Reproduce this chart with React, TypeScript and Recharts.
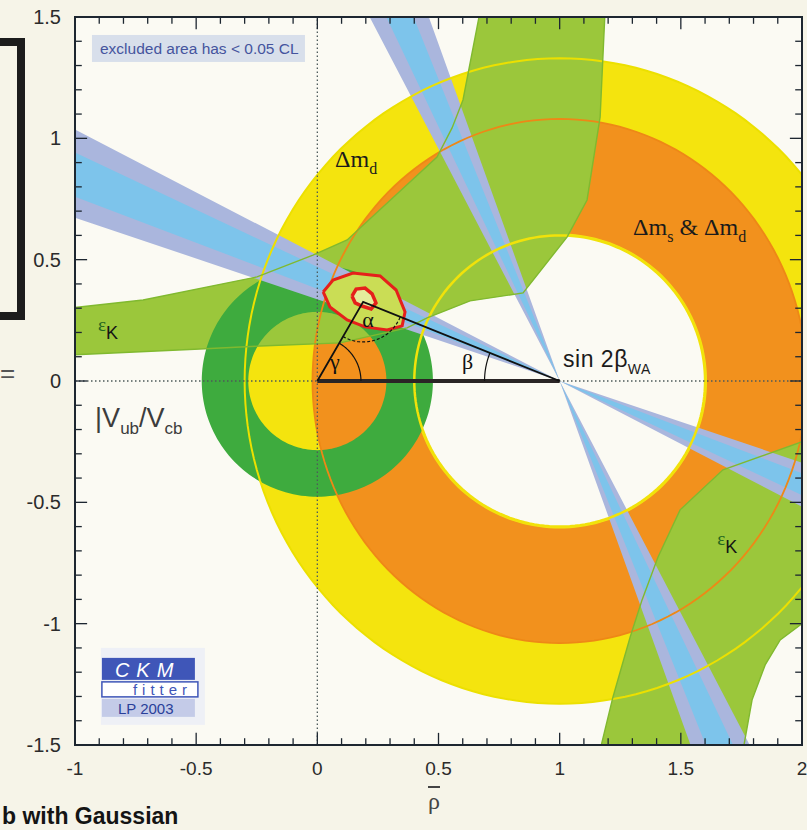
import React from 'react';
import { ComposedChart, XAxis, YAxis, Area, Line, ReferenceLine, ReferenceArea, ReferenceDot } from 'recharts';

type Pt = [number, number];

const SERIF = '"Liberation Serif", "DejaVu Serif", serif';
const SANS = '"Liberation Sans", Arial, sans-serif';
const NARROW = '"Liberation Sans Narrow", "Liberation Sans", Arial, sans-serif';

// Δm_d (yellow) and Δm_s & Δm_d (orange) rings round (1, 0): radii along rho, eta
const DM_CENTRE: Pt = [1.0, 0.0];
const DMD_OUTER: Pt = [1.3, 1.33];
const DMS_OUTER: Pt = [1.02, 1.08];
const DM_HOLE = 0.6;

// |Vub/Vcb| ring round the origin: inner, outer radius
const VUB_RADII: Pt = [0.285, 0.477];

// sin 2β_WA: direction of the two solutions seen from (1, 0) and half widths, degrees
const SIN2B_DIR = [157, 113.7];
const SIN2B_CORE = [2.2, 1.8];
const SIN2B_WIDE = [4.4, 3.9];

// εK hyperbolic bands
const EPSK_UPPER: Pt[] = [
  [-1.02, 0.301], [-0.719, 0.334], [-0.249, 0.429], [-0.018, 0.519], [0.123, 0.581],
  [0.494, 0.923], [0.556, 1.043], [0.601, 1.158], [0.671, 1.52], [1.187, 1.52],
  [1.167, 1.088], [1.113, 0.746], [1.031, 0.594], [0.849, 0.363], [0.63, 0.33],
  [0.453, 0.26], [0.37, 0.219], [0.094, 0.157], [-0.236, 0.144], [-0.484, 0.132], [-1.02, 0.107],
];
const EPSK_LOWER: Pt[] = [
  [2.02, -0.243], [1.674, -0.366], [1.497, -0.531], [1.406, -0.725], [1.34, -0.902],
  [1.291, -1.055], [1.22, -1.302], [1.167, -1.52], [1.757, -1.52], [1.794, -1.314],
  [1.848, -1.17], [1.91, -1.067], [2.02, -0.985],
];

// global fit contours
const FIT_95: Pt[] = [
  [0.024, 0.367], [0.065, 0.416], [0.147, 0.445], [0.259, 0.433], [0.325, 0.375], [0.362, 0.285],
  [0.35, 0.227], [0.288, 0.21], [0.197, 0.223], [0.123, 0.252], [0.052, 0.305],
];
const FIT_68: Pt[] = [
  [0.143, 0.35], [0.16, 0.379], [0.197, 0.383], [0.226, 0.359], [0.242, 0.322],
  [0.222, 0.297], [0.184, 0.309], [0.156, 0.322],
];
const APEX: Pt = [0.189, 0.326];

const X_LABELS = [-1, -0.5, 0, 0.5, 1, 1.5, 2];
const Y_LABELS = [-1.5, -1, -0.5, 0, 0.5, 1, 1.5];
const X_MINOR = [-1, -0.9, -0.8, -0.7, -0.6, -0.5, -0.4, -0.3, -0.2, -0.1, 0, 0.1, 0.2, 0.3, 0.4, 0.5,
  0.6, 0.7, 0.8, 0.9, 1, 1.1, 1.2, 1.3, 1.4, 1.5, 1.6, 1.7, 1.8, 1.9, 2];
const Y_MINOR = [-1.5, -1.4, -1.3, -1.2, -1.1, -1, -0.9, -0.8, -0.7, -0.6, -0.5, -0.4, -0.3, -0.2, -0.1, 0,
  0.1, 0.2, 0.3, 0.4, 0.5, 0.6, 0.7, 0.8, 0.9, 1, 1.1, 1.2, 1.3, 1.4, 1.5];

const C = {
  yellow: '#f4e40e', orange: '#f2911d', lightGreen: '#9bc73b', darkGreen: '#3eab3e',
  blue: '#7dc4eb', lavender: '#aab6dd', red: '#e5201b', fit: '#cadd55', axis: '#1d2630',
};

// geometry helpers (shapes are built from the measured centres / radii / angles)
const rad = (d: number) => (d * Math.PI) / 180;
const deg = (p: Pt, q: Pt) => (Math.atan2(q[1] - p[1], q[0] - p[0]) * 180) / Math.PI;
const arc = (c: Pt, rx: number, ry: number, from: number, to: number, n = 180): Pt[] =>
  Array.from({ length: n + 1 }, (_, i) => {
    const a = rad(from + ((to - from) * i) / n);
    return [c[0] + rx * Math.cos(a), c[1] + ry * Math.sin(a)] as Pt;
  });
const ring = (c: Pt, outer: Pt, inner: Pt): Pt[] => [
  ...arc(c, outer[0], outer[1], 0, 360), ...arc(c, inner[0], inner[1], 360, 0), [c[0] + outer[0], c[1]],
];
const ray = (c: Pt, d: number, len = 4): Pt => [c[0] + len * Math.cos(rad(d)), c[1] + len * Math.sin(rad(d))];
const bowtie = (c: Pt, dir: number, half: number): Pt[] => [
  c, ray(c, dir - half), ray(c, dir + half), c, ray(c, dir + 180 - half), ray(c, dir + 180 + half), c,
];
const loop = (pts: Pt[]): Pt[] => [...pts, pts[0]];
const rows = (pts: Pt[]) => pts.map(([x, y]) => ({ x, y }));

const fill = (key: string, pts: Pt[], color: string, z: number) => (
  <Area key={key} data={rows(pts)} dataKey="y" type="linear" stroke="none" fill={color} fillOpacity={1}
    dot={false} activeDot={false} isAnimationActive={false} zIndex={z} />
);
const stroke = (key: string, pts: Pt[], color: string, w: number, z: number, dash?: string) => (
  <Line key={key} data={rows(pts)} dataKey="y" type="linear" stroke={color} strokeWidth={w}
    strokeDasharray={dash} dot={false} activeDot={false} isAnimationActive={false} zIndex={z} />
);
const note = (key: string, at: Pt, draw: (cx: number, cy: number) => React.ReactNode) => (
  <ReferenceDot key={key} x={at[0]} y={at[1]} r={0} ifOverflow="visible" zIndex={80}
    shape={(p: any) => <g>{draw(p.cx, p.cy)}</g>} />
);
const tick = (key: string, a: { x: number; y: number }, b: { x: number; y: number }) => (
  <ReferenceLine key={key} segment={[a, b]} stroke={C.axis} strokeWidth={1.3} ifOverflow="visible" zIndex={70} />
);

export default function App() {
  const origin: Pt = [0, 0];
  const right: Pt = [1, 0];
  const len = (v: number, labels: number[]) => (labels.includes(v) ? 0.05 : 0.028);

  return (
    <div style={{ position: 'absolute', left: 0, top: 0, width: 807, height: 830, overflow: 'hidden', background: '#f6f4e8' }}>
      {/* slide decoration outside the plot */}
      <div style={{ position: 'absolute', left: -10, top: 38, width: 27, height: 266, border: '8px solid #1c1c1c', borderLeft: 'none' }} />
      <div style={{ position: 'absolute', left: 0, top: 358, fontFamily: SANS, fontSize: 26, color: '#555' }}>=</div>
      <div style={{ position: 'absolute', left: 428, top: 788, fontFamily: SERIF, fontSize: 24, color: '#444', textDecoration: 'overline' }}>ρ</div>
      <div style={{ position: 'absolute', left: 2, top: 803, fontFamily: SANS, fontSize: 23, fontWeight: 700, lineHeight: '26px', color: '#141414' }}>b with Gaussian</div>

      <ComposedChart width={807} height={830} margin={{ top: 17, right: 5, bottom: 55, left: 15 }} style={{ position: 'absolute', left: 0, top: 0 }}>
        <XAxis type="number" dataKey="x" domain={[-1, 2]} ticks={X_LABELS} interval={0} allowDataOverflow
          axisLine={false} tickLine={false} height={30} tickMargin={11}
          tick={{ fill: '#2b2b2b', fontSize: 19, fontFamily: NARROW }} />
        <YAxis type="number" domain={[-1.5, 1.5]} ticks={Y_LABELS} interval={0} allowDataOverflow
          axisLine={false} tickLine={false} width={60} tickMargin={8}
          tick={{ fill: '#2b2b2b', fontSize: 20, fontFamily: NARROW }} />

        <ReferenceArea x1={-1} x2={2} y1={-1.5} y2={1.5} fill="#fbfaf3" fillOpacity={1} stroke="none" zIndex={10} />

        {fill('dmd', ring(DM_CENTRE, DMD_OUTER, [DM_HOLE, DM_HOLE]), C.yellow, 20)}
        {fill('dms', ring(DM_CENTRE, DMS_OUTER, [DM_HOLE + 0.008, DM_HOLE + 0.008]), C.orange, 21)}
        {fill('epsk1', loop(EPSK_UPPER), C.lightGreen, 22)}
        {fill('epsk2', loop(EPSK_LOWER), C.lightGreen, 22)}
        {fill('vub', ring(origin, [VUB_RADII[1], VUB_RADII[1]], [VUB_RADII[0], VUB_RADII[0]]), C.darkGreen, 23)}
        {SIN2B_DIR.map((d, i) => fill('s2bw' + i, bowtie(right, d, SIN2B_WIDE[i]), C.lavender, 30))}
        {SIN2B_DIR.map((d, i) => fill('s2bc' + i, bowtie(right, d, SIN2B_CORE[i]), C.blue, 31))}

        {stroke('dmdLine', arc(DM_CENTRE, DMD_OUTER[0], DMD_OUTER[1], 0, 360), '#ece000', 2, 40)}
        {stroke('holeLine', arc(DM_CENTRE, DM_HOLE, DM_HOLE, 0, 360), '#f1e20a', 2.5, 40)}
        {stroke('dmsLine', arc(DM_CENTRE, DMS_OUTER[0], DMS_OUTER[1], 0, 360), '#ee8816', 1.8, 40)}
        {stroke('epsk1Line', loop(EPSK_UPPER), '#80b92f', 1.4, 40)}
        {stroke('epsk2Line', loop(EPSK_LOWER), '#80b92f', 1.4, 40)}

        <ReferenceLine x={0} stroke="#4d5a5a" strokeDasharray="1.5 2.5" strokeWidth={1.3} zIndex={45} />
        <ReferenceLine y={0} stroke="#4d5a5a" strokeDasharray="1.5 2.5" strokeWidth={1.3} zIndex={45} />

        {fill('fit95', loop(FIT_95), C.fit, 50)}
        {stroke('fit95Line', loop(FIT_95), C.red, 3, 51)}
        {fill('fit68', loop(FIT_68), '#e4ee9c', 52)}
        {stroke('fit68Line', loop(FIT_68), C.red, 3.5, 53)}

        {stroke('base', [origin, right], '#2a2525', 4, 60)}
        {stroke('sides', [origin, APEX, right], '#111', 1.8, 60)}
        {stroke('gamma', arc(origin, 0.18, 0.18, 0, deg(origin, APEX), 40), '#111', 1.2, 60)}
        {stroke('alpha', arc(APEX, 0.165, 0.165, deg(APEX, origin), deg(APEX, right), 40), '#111', 1.2, 60, '3 2')}
        {stroke('beta', arc(right, 0.31, 0.31, deg(right, APEX), 180, 30), '#111', 1.2, 60)}

        {X_MINOR.map((v) => tick('xb' + v, { x: v, y: -1.5 }, { x: v, y: -1.5 + len(v, X_LABELS) }))}
        {X_MINOR.map((v) => tick('xt' + v, { x: v, y: 1.5 }, { x: v, y: 1.5 - len(v, X_LABELS) }))}
        {Y_MINOR.map((v) => tick('yl' + v, { x: -1, y: v }, { x: -1 + len(v, Y_LABELS), y: v }))}
        {Y_MINOR.map((v) => tick('yr' + v, { x: 2, y: v }, { x: 2 - len(v, Y_LABELS), y: v }))}
        <ReferenceArea x1={-1} x2={2} y1={-1.5} y2={1.5} fill="none" stroke={C.axis} strokeWidth={2} zIndex={70} />

        {note('excl', [-0.93, 1.426], (x, y) => (
          <>
            <rect x={x} y={y} width={213} height={27} fill="#d8dfeb" />
            <text x={x + 8} y={y + 19} fontFamily={SANS} fontSize={15.5} fill="#45549e">excluded area has &lt; 0.05 CL</text>
          </>
        ))}
        {note('logo', [-0.889, -1.141], (x, y) => (
          <>
            <rect x={x - 1} y={y - 10} width={104} height={77} fill="#eef0f6" />
            <rect x={x} y={y} width={93} height={22} fill="#3f56b8" />
            <text x={x + 13} y={y + 19} fontFamily={SANS} fontSize={20} fontStyle="italic" letterSpacing={7} fill="#fff">CKM</text>
            <rect x={x} y={y + 24} width={96} height={15} fill="#fff" stroke="#3f56b8" strokeWidth={1.5} />
            <text x={x + 31} y={y + 37} fontFamily={SANS} fontSize={15} letterSpacing={5} fill="#3f56b8">fitter</text>
            <rect x={x} y={y + 41} width={93} height={18} fill="#c4cbe8" />
            <text x={x + 16} y={y + 56} fontFamily={SANS} fontSize={15} fill="#2a3f9a">LP 2003</text>
          </>
        ))}
        {note('dmd', [0.073, 0.882], (x, y) => (
          <text x={x} y={y} fontFamily={SERIF} fontSize={24} fill="#1b1b1b">Δm<tspan fontSize={16} dy={7}>d</tspan></text>
        ))}
        {note('dms', [1.303, 0.602], (x, y) => (
          <text x={x} y={y} fontFamily={SERIF} fontSize={24} fill="#1b1b1b">
            Δm<tspan fontSize={16} dy={7}>s</tspan><tspan dy={-7}>{' & Δm'}</tspan><tspan fontSize={16} dy={7}>d</tspan>
          </text>
        ))}
        {note('s2b', [1.014, 0.058], (x, y) => (
          <text x={x} y={y} fontFamily={SANS} fontSize={23} letterSpacing={0.5} fill="#1b1b1b">sin 2β<tspan fontSize={14} dy={7}>WA</tspan></text>
        ))}
        {note('ek1', [-0.905, 0.206], (x, y) => (
          <text x={x} y={y} fontFamily={SERIF}><tspan fontSize={19} fill="#23651f">ε</tspan><tspan fontFamily={SANS} fontSize={18} dy={8} fill="#151515">K</tspan></text>
        ))}
        {note('ek2', [1.65, -0.676], (x, y) => (
          <text x={x} y={y} fontFamily={SERIF}><tspan fontSize={19} fill="#23651f">ε</tspan><tspan fontFamily={SANS} fontSize={18} dy={8} fill="#151515">K</tspan></text>
        ))}
        {note('vubl', [-0.917, -0.189], (x, y) => (
          <text x={x} y={y} fontFamily={SANS} fontSize={27} fill="#3c3c3c">
            |V<tspan fontSize={17} dy={7}>ub</tspan><tspan dy={-7}>/V</tspan><tspan fontSize={17} dy={7}>cb</tspan>
          </text>
        ))}
        {note('al', [0.185, 0.223], (x, y) => <text x={x} y={y} fontFamily={SERIF} fontSize={22} fill="#111">α</text>)}
        {note('ga', [0.052, 0.05], (x, y) => <text x={x} y={y} fontFamily={SERIF} fontSize={22} fill="#111">γ</text>)}
        {note('be', [0.597, 0.05], (x, y) => <text x={x} y={y} fontFamily={SERIF} fontSize={22} fill="#111">β</text>)}
      </ComposedChart>
    </div>
  );
}
